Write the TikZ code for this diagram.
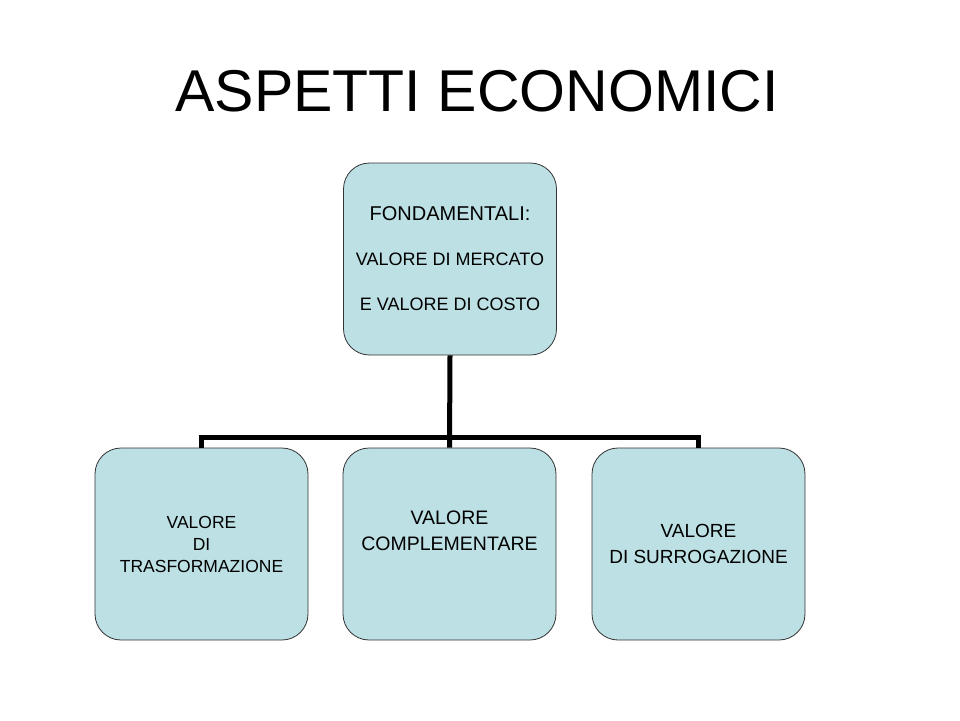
\documentclass[tikz,border=0pt]{standalone}
\usepackage{fontspec}
\setmainfont{Liberation Sans}
\usetikzlibrary{positioning}
\definecolor{boxfill}{RGB}{188,224,228}

\begin{document}
\begin{tikzpicture}[x=1pt,y=-1pt]
		\tikzstyle{every node}+=[inner sep=0pt]
		\tikzstyle{valbox}=[draw=black!80, line width=0.8pt, fill=boxfill, rounded corners=26pt, minimum width=213pt, minimum height=192pt, align=center]
		\tikzstyle{link}=[black, line width=5pt]
		\useasboundingbox (0,0) rectangle (960,720);
		\node [anchor=base] (title) at (477,111) {\fontsize{59}{59}\selectfont ASPETTI ECONOMICI};
		\node [valbox, font=\fontsize{18}{45}\selectfont] (fond) at (450,259) {{\fontsize{20}{45}\selectfont FONDAMENTALI:}\\VALORE DI MERCATO\\E VALORE DI COSTO};
		\node [valbox, font=\fontsize{17.5}{22}\selectfont] (trasf) at (201.5,544) {VALORE\\DI\\TRASFORMAZIONE};
		\node [valbox, font=\fontsize{19.5}{26}\selectfont, text depth=26pt] (compl) at (449.5,544) {VALORE\\COMPLEMENTARE};
		\node [valbox, font=\fontsize{19}{26}\selectfont] (surr) at (698.5,544) {VALORE\\DI SURROGAZIONE};
		\coordinate (bus) at (450,437);
		\draw [link] (fond.south) -- (compl.north);
		\draw [link] (trasf.north) |- (bus) -| (surr.north);
\end{tikzpicture}
\end{document}
